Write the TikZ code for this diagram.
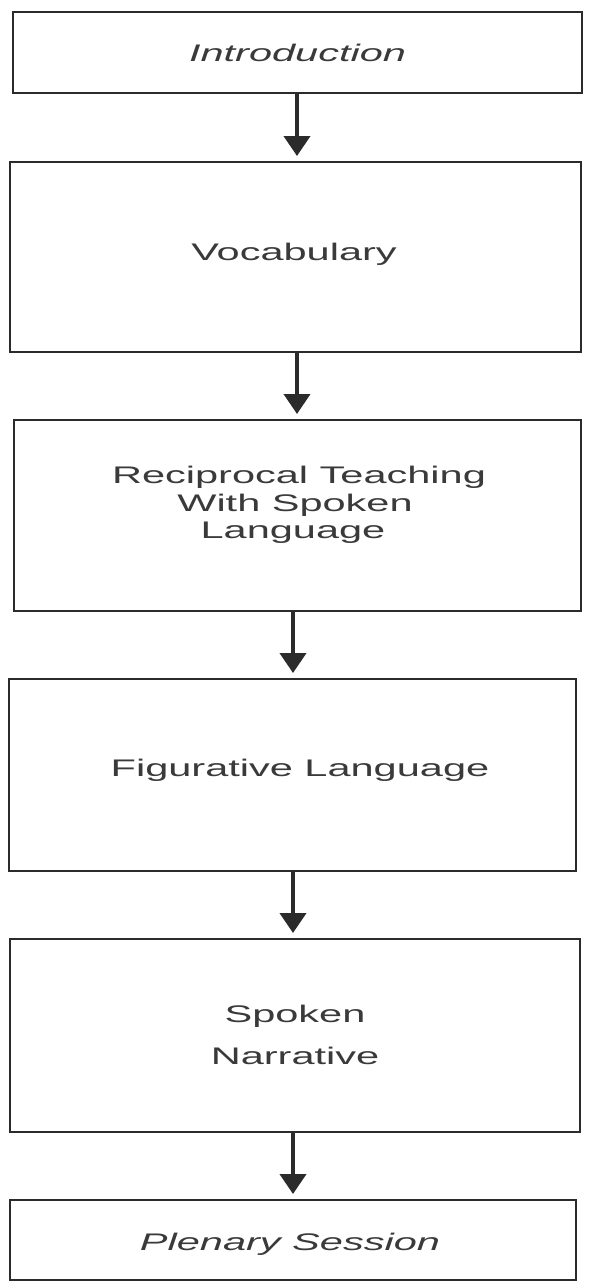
\documentclass[tikz,border=0pt]{standalone}
\usepackage{graphicx}
\usepackage{fontspec}
\setmainfont{Liberation Sans}
\usetikzlibrary{arrows.meta}
\definecolor{linec}{HTML}{2B2B2B}
\definecolor{textc}{HTML}{3A3A3A}
\newcommand{\sxt}[1]{\scalebox{1.73}[1]{#1}}
\tikzset{
  boxnode/.style={draw=linec, line width=2.6pt, rectangle, inner sep=0pt, outer sep=0pt, fill=white},
  lbl/.style={text=textc, font=\fontsize{24}{28}\selectfont, anchor=base, inner sep=0pt},
  flowarrow/.style={draw=linec, line width=4pt, -{Triangle[width=26pt,length=20pt]}, shorten >=6pt},
}
\begin{document}
\begin{tikzpicture}[x=1pt,y=-1pt]
\useasboundingbox (0,0) rectangle (596,1282);
% boxes
\node[boxnode, minimum width=569pt, minimum height=81pt] (b1) at (297.5,52.5) {};
\node[boxnode, minimum width=571pt, minimum height=190pt] (b2) at (295.5,257) {};
\node[boxnode, minimum width=567pt, minimum height=191pt] (b3) at (297.5,515.5) {};
\node[boxnode, minimum width=567pt, minimum height=192pt] (b4) at (292.5,775) {};
\node[boxnode, minimum width=570pt, minimum height=193pt] (b5) at (295,1035.5) {};
\node[boxnode, minimum width=566pt, minimum height=80pt] (b6) at (293,1240) {};
% labels
\node[lbl] (t1) at (297.5,61) {\sxt{\itshape Introduction}};
\node[lbl] (t2) at (294,260) {\sxt{Vocabulary}};
\node[lbl] (t3a) at (299,483) {\sxt{Reciprocal Teaching}};
\node[lbl] (t3b) at (295,511) {\sxt{With Spoken}};
\node[lbl] (t3c) at (293,538) {\sxt{Language}};
\node[lbl] (t4) at (300,776) {\sxt{Figurative Language}};
\node[lbl] (t5a) at (295,1022) {\sxt{Spoken}};
\node[lbl] (t5b) at (295,1064) {\sxt{Narrative}};
\node[lbl] (t6) at (290,1250) {\sxt{\itshape Plenary Session}};
% arrows
\draw[flowarrow] (b1.south -| 297,0) -- (b2.north -| 297,0);
\draw[flowarrow] (b2.south -| 297,0) -- (b3.north -| 297,0);
\draw[flowarrow] (b3.south -| 293,0) -- (b4.north -| 293,0);
\draw[flowarrow] (b4.south -| 293,0) -- (b5.north -| 293,0);
\draw[flowarrow] (b5.south -| 293,0) -- (b6.north -| 293,0);
\end{tikzpicture}
\end{document}
